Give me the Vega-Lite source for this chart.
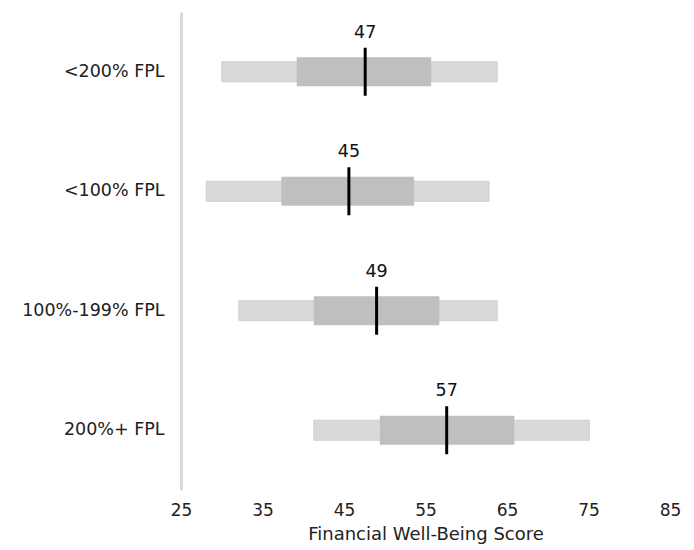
{
  "$schema": "https://vega.github.io/schema/vega-lite/v6.json",
  "autosize": "none",
  "width": 489,
  "height": 478,
  "padding": {"left": 181, "top": 12, "right": 24, "bottom": 60},
  "background": "white",
  "config": {"view": {"stroke": null}, "font": "DejaVu Sans"},
  "data": {"values": [
    {"group": "<200% FPL", "p10": 30.0, "p25": 39.2, "median": 47.6, "p75": 55.7, "p90": 63.8, "label": "47"},
    {"group": "<100% FPL", "p10": 28.1, "p25": 37.3, "median": 45.6, "p75": 53.6, "p90": 62.8, "label": "45"},
    {"group": "100%-199% FPL", "p10": 32.1, "p25": 41.3, "median": 49.0, "p75": 56.7, "p90": 63.8, "label": "49"},
    {"group": "200%+ FPL", "p10": 41.3, "p25": 49.4, "median": 57.6, "p75": 65.9, "p90": 75.1, "label": "57"}
  ]},
  "encoding": {
    "y": {
      "field": "group", "type": "nominal",
      "sort": ["<200% FPL", "<100% FPL", "100%-199% FPL", "200%+ FPL"],
      "scale": {"paddingInner": 0, "paddingOuter": 0},
      "axis": {"title": null, "ticks": false, "domain": true, "domainColor": "#d9d9d9", "domainWidth": 3,
               "labelFontSize": 17.5, "labelColor": "#222", "labelPadding": 17, "labelFont": "DejaVu Sans"}
    }
  },
  "layer": [
    {
      "mark": {"type": "bar", "color": "#d9d9d9", "size": 20, "stroke": "#cfcfcf", "strokeWidth": 1},
      "encoding": {
        "x": {"field": "p10", "type": "quantitative",
              "scale": {"domain": [25, 85], "nice": false, "zero": false},
              "axis": {"values": [25, 35, 45, 55, 65, 75, 85], "grid": false, "domain": false, "ticks": false,
                       "labelFlush": false, "labelOverlap": false,
                       "labelFontSize": 17, "labelColor": "#222", "labelPadding": 12, "labelFont": "DejaVu Sans",
                       "title": "Financial Well-Being Score", "titleFontSize": 18, "titleFontWeight": "normal",
                       "titleColor": "#222", "titlePadding": 7, "titleFont": "DejaVu Sans"}},
        "x2": {"field": "p90"}
      }
    },
    {
      "mark": {"type": "bar", "color": "#bfbfbf", "size": 29},
      "encoding": {
        "x": {"field": "p25", "type": "quantitative"},
        "x2": {"field": "p75"}
      }
    },
    {
      "mark": {"type": "tick", "color": "black", "opacity": 1, "size": 48, "thickness": 3, "orient": "vertical"},
      "encoding": {
        "x": {"field": "median", "type": "quantitative"}
      }
    },
    {
      "mark": {"type": "text", "baseline": "bottom", "dy": -30, "fontSize": 17.5, "color": "#111", "font": "DejaVu Sans"},
      "encoding": {
        "x": {"field": "median", "type": "quantitative"},
        "text": {"field": "label"}
      }
    }
  ]
}
